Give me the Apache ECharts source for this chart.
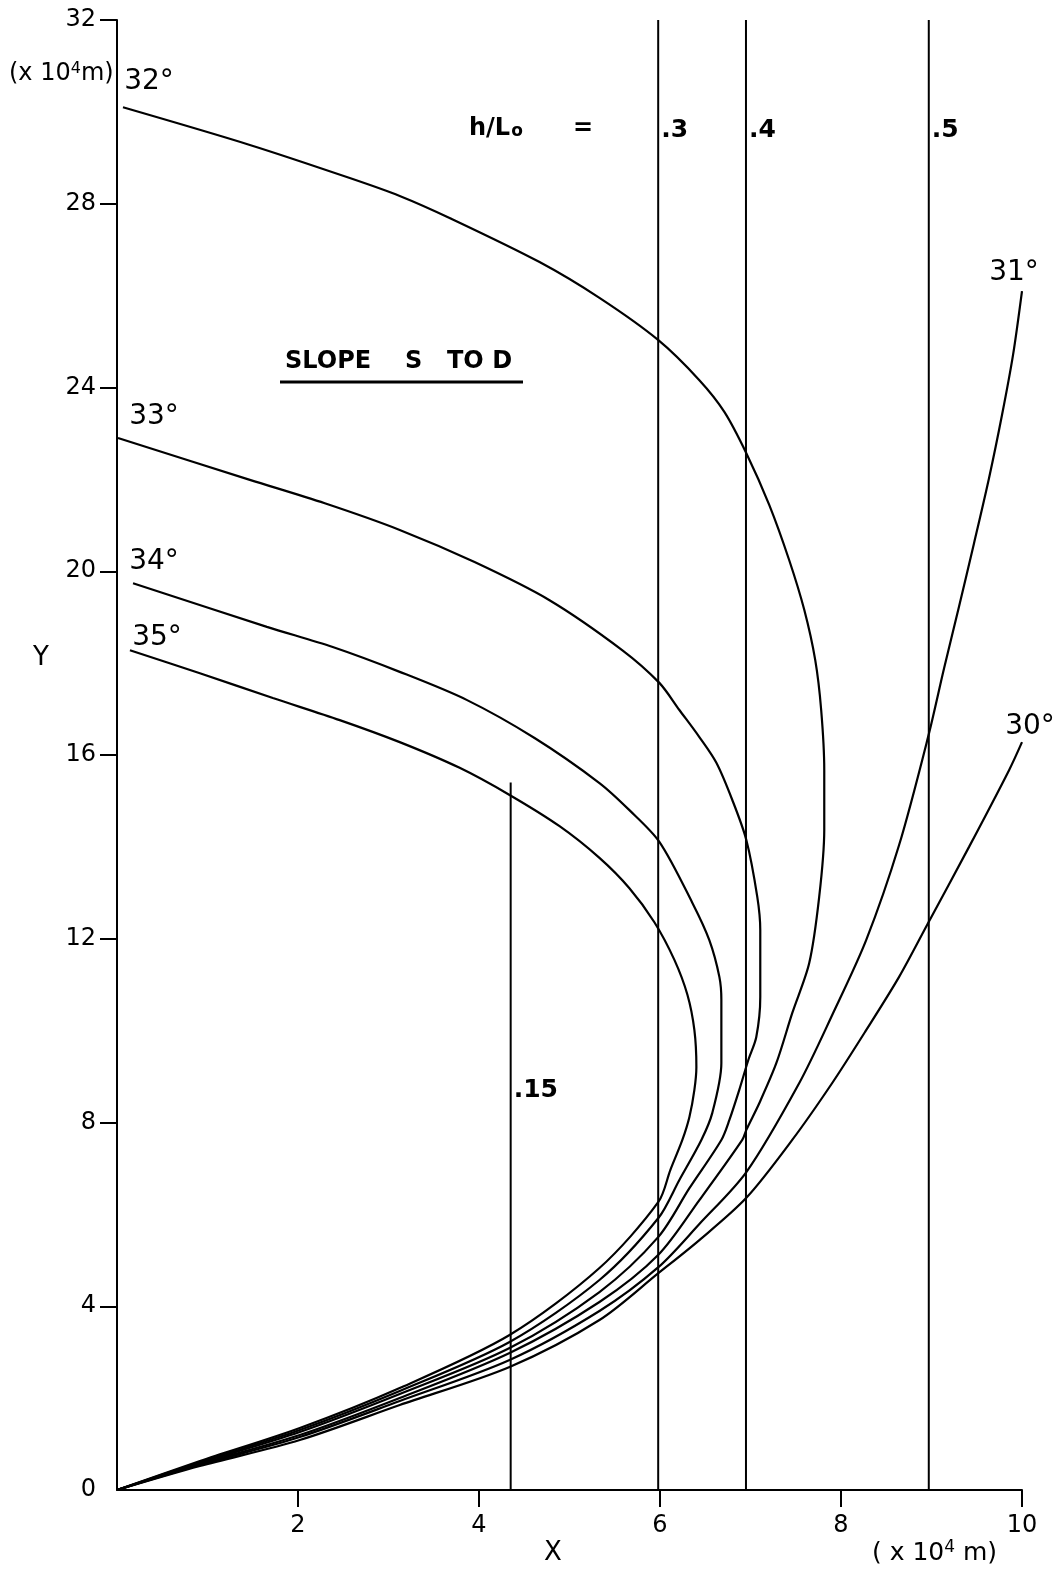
<!DOCTYPE html>
<html><head><meta charset="utf-8">
<script src="https://cdn.jsdelivr.net/npm/echarts@6/dist/echarts.min.js"></script>
<style>html,body{margin:0;padding:0;background:#fff}#c{width:1064px;height:1571px}</style>
</head><body><div id="c"></div>
<script>
// ---- data (x and y in units of 10^4 m) ----
const angleNames = ['30°','31°','32°','33°','34°','35°'];
const curve30 = [[0,0],[0.916,0.522],[2.02,1.088],[3.124,1.850],[4.338,2.678],[5.331,3.700],[5.982,4.72],[6.435,5.44],[6.954,6.36],[7.461,7.62],[7.903,8.86],[8.278,10.01],[8.642,11.17],[8.951,12.30],[9.415,14.00],[9.857,15.67],[10.0,16.28]];
const curve31 = [[0,0],[0.916,0.544],[2.02,1.154],[3.124,1.937],[4.338,2.830],[5.331,3.896],[5.982,4.85],[6.435,5.79],[6.954,6.92],[7.539,8.86],[7.903,10.34],[8.278,11.97],[8.642,14.04],[8.962,16.39],[9.139,17.89],[9.305,19.24],[9.470,20.61],[9.636,22.03],[9.779,23.40],[9.901,24.71],[10.0,26.1]];
const curve32 = [[0,0],[0.916,0.566],[2.02,1.197],[3.124,2.003],[4.338,2.982],[5.331,4.092],[5.982,5.12],[6.435,6.31],[6.909,7.62],[6.954,7.84],[7.097,8.42],[7.285,9.29],[7.461,10.38],[7.649,11.47],[7.759,12.91],[7.815,14.37],[7.815,15.67],[7.781,16.98],[7.715,18.07],[7.594,19.16],[7.428,20.24],[7.208,21.44],[6.954,22.57],[6.711,23.47],[6.435,24.16],[5.982,25.03],[5.331,25.95],[4.669,26.73],[3.675,27.69],[3.124,28.17],[2.572,28.56],[1.468,29.28],[0.066,30.10]];
const curve33 = [[0,0],[0.916,0.588],[2.02,1.263],[3.124,2.090],[4.338,3.091],[5.331,4.310],[5.982,5.51],[6.325,6.57],[6.678,7.62],[6.766,8.05],[6.876,8.71],[6.976,9.36],[7.064,9.86],[7.108,10.73],[7.108,12.19],[7.075,12.91],[6.954,14.15],[6.799,15.02],[6.623,15.83],[6.435,16.39],[6.214,16.98],[5.993,17.57],[5.585,18.28],[4.779,19.37],[3.951,20.20],[3.124,20.90],[2.296,21.48],[1.468,21.99],[0.011,22.90]];
const curve34 = [[0,0],[0.916,0.609],[2.02,1.306],[3.124,2.155],[4.338,3.222],[5.331,4.571],[5.982,5.92],[6.214,6.75],[6.457,7.62],[6.578,8.21],[6.678,9.29],[6.678,10.67],[6.656,11.17],[6.545,11.97],[6.358,12.78],[5.993,14.11],[5.662,14.80],[5.331,15.39],[4.614,16.37],[3.863,17.20],[3.124,17.81],[2.384,18.35],[1.656,18.79],[0.177,19.74]];
const curve35 = [[0,0],[0.916,0.631],[2.02,1.350],[3.124,2.220],[4.338,3.374],[5.331,4.832],[5.982,6.27],[6.115,6.97],[6.247,7.62],[6.325,8.12],[6.380,8.71],[6.402,9.21],[6.380,10.01],[6.303,10.78],[6.159,11.54],[5.938,12.36],[5.662,13.10],[5.331,13.76],[4.890,14.45],[4.338,15.13],[3.786,15.72],[3.124,16.28],[2.461,16.76],[1.722,17.24],[0.916,17.78],[0.143,18.28]];
const curves = [curve30, curve31, curve32, curve33, curve34, curve35];
// h/Lo reference lines
const hLoNames = ['.15', '.3', '.4', '.5'];
const hLoX = [4.35, 5.98, 6.95, 8.97];
const hLoTop = [15.4, 32, 32, 32];
const xTickValues = [2, 4, 6, 8, 10];
const yTickValues = [0, 4, 8, 12, 16, 20, 24, 28, 32];

// ---- chart ----
const FONT = '"DejaVu Sans", "Liberation Sans", sans-serif';
const chart = echarts.init(document.getElementById('c'), null, {renderer: 'canvas'});
const series = [];
curves.forEach((c, i) => series.push({
  name: angleNames[i], type: 'line', data: c, showSymbol: false, symbol: 'none',
  smooth: 0.3, lineStyle: {color: '#000', width: 2.2}, silent: true, z: 3
}));
hLoX.forEach((x, i) => series.push({
  name: 'h/Lo ' + hLoNames[i], type: 'line', data: [[x, 0], [x, hLoTop[i]]],
  showSymbol: false, symbol: 'none', lineStyle: {color: '#000', width: 2}, silent: true, z: 2
}));

chart.setOption({
  animation: false,
  backgroundColor: '#fff',
  grid: {left: 117, right: 42, top: 20, bottom: 81, containLabel: false, outerBoundsMode: 'none'},
  xAxis: {
    type: 'value', min: 0, max: xTickValues[xTickValues.length - 1], interval: 2,
    axisLine: {show: true, onZero: false, lineStyle: {color: '#000', width: 2}},
    axisTick: {show: true, inside: false, length: 17, customValues: xTickValues, lineStyle: {color: '#000', width: 2}},
    axisLabel: {show: true, margin: 24, color: '#000', fontSize: 24, fontFamily: FONT, customValues: xTickValues},
    splitLine: {show: false}
  },
  yAxis: {
    type: 'value', min: yTickValues[0], max: yTickValues[yTickValues.length - 1], interval: 4,
    axisLine: {show: true, onZero: false, lineStyle: {color: '#000', width: 2}},
    axisTick: {show: true, inside: false, length: 17, customValues: yTickValues.slice(1), lineStyle: {color: '#000', width: 2}},
    axisLabel: {show: true, margin: 21, color: '#000', fontSize: 24, fontFamily: FONT, customValues: yTickValues},
    splitLine: {show: false}
  },
  series: series
});

// ---- annotations ----
const px = (x, y) => chart.convertToPixel({gridIndex: 0}, [x, y]);
const txt = (text, x, y, style) => ({
  type: 'text', x: x, y: y,
  style: Object.assign({text: text, fill: '#000', font: '24px ' + FONT, textAlign: 'center', textVerticalAlign: 'middle'}, style || {})
});
const g = [];
// angle labels next to the free end of each curve
const endOffsets = [[8, -15], [-8, -18], [26, -26], [36, -21], [21, -21], [27, -13]];
curves.forEach((c, i) => {
  const e = px(c[c.length - 1][0], c[c.length - 1][1]);
  g.push(txt(angleNames[i], e[0] + endOffsets[i][0], e[1] + endOffsets[i][1], {font: '28px ' + FONT}));
});
// h/Lo line labels
const hLoLabelY = [8.7, 29.6, 29.6, 29.6];
hLoX.forEach((x, i) => {
  const p = px(x, hLoLabelY[i]);
  g.push(txt(hLoNames[i], p[0] + 3, p[1], {font: 'bold 25px ' + FONT, textAlign: 'left'}));
});
g.push({type: 'text', x: 469, y: 129, style: {
  text: '{a|h/L}{s|o}{a|      =}', textAlign: 'left', textVerticalAlign: 'middle',
  rich: {a: {font: 'bold 24px ' + FONT, fill: '#000'}, s: {font: 'bold 17px ' + FONT, fill: '#000', padding: [6, 0, 0, 1]}}
}});
// title
g.push(txt('SLOPE', 285, 362, {font: 'bold 24px ' + FONT, textAlign: 'left'}));
g.push(txt('S', 405, 362, {font: 'bold 24px ' + FONT, textAlign: 'left'}));
g.push(txt('TO D', 447, 362, {font: 'bold 24px ' + FONT, textAlign: 'left'}));
g.push({type: 'line', shape: {x1: 280, y1: 382, x2: 523, y2: 382}, style: {stroke: '#000', lineWidth: 3}});
// axis names and units
g.push(txt('Y', 41, 658, {font: '26px ' + FONT}));
g.push(txt('X', 553, 1553, {font: '26px ' + FONT}));
g.push({type: 'text', x: 9, y: 74, style: {
  text: '{a|(x 10}{s|4}{a|m)}', textAlign: 'left', textVerticalAlign: 'middle',
  rich: {a: {font: '24px ' + FONT, fill: '#000'}, s: {font: '16px ' + FONT, fill: '#000', padding: [0, 0, 11, 0]}}
}});
g.push({type: 'text', x: 872, y: 1553, style: {
  text: '{a|( x 10}{s|4}{a| m)}', textAlign: 'left', textVerticalAlign: 'middle',
  rich: {a: {font: '25px ' + FONT, fill: '#000'}, s: {font: '17px ' + FONT, fill: '#000', padding: [0, 0, 11, 0]}}
}});
chart.setOption({graphic: g});
</script>
</body></html>
